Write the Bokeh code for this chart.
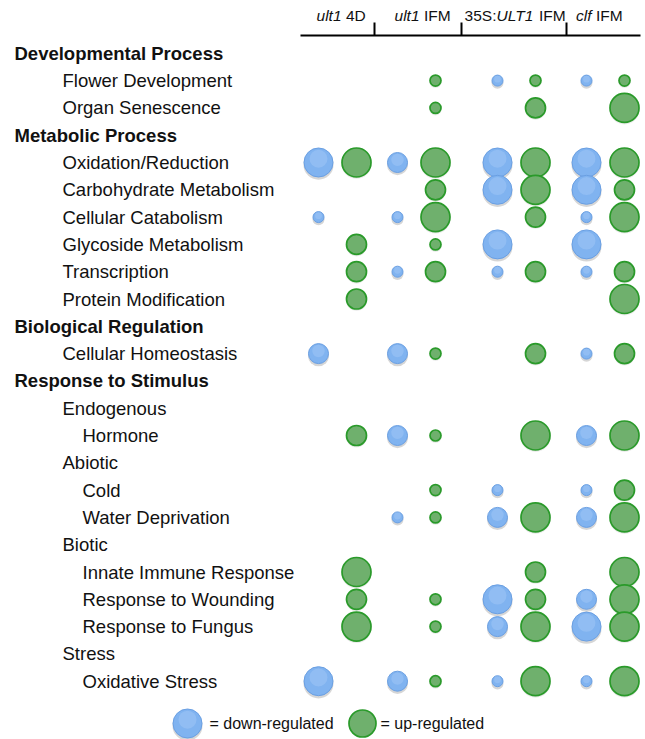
from bokeh.plotting import figure
from bokeh.models import Range1d, ColumnDataSource
from bokeh.embed import file_html
from bokeh.resources import INLINE
from bokeh.core.properties import value

# ---------------- data ----------------
row_labels = [
    "Developmental Process", "Flower Development", "Organ Senescence",
    "Metabolic Process", "Oxidation/Reduction", "Carbohydrate Metabolism",
    "Cellular Catabolism", "Glycoside Metabolism", "Transcription",
    "Protein Modification", "Biological Regulation", "Cellular Homeostasis",
    "Response to Stimulus", "Endogenous", "Hormone", "Abiotic", "Cold",
    "Water Deprivation", "Biotic", "Innate Immune Response",
    "Response to Wounding", "Response to Fungus", "Stress", "Oxidative Stress",
]
row_levels = [0, 1, 1, 0, 1, 1, 1, 1, 1, 1, 0, 1, 0, 1, 2, 1, 2, 2, 1, 2, 2, 2, 1, 2]

# size class of each circle: 0 = none, 1 = small, 2 = medium, 3 = large
ult1_4d_down   = [0, 0, 0, 0, 3, 0, 1, 0, 0, 0, 0, 2, 0, 0, 0, 0, 0, 0, 0, 0, 0, 0, 0, 3]
ult1_4d_up     = [0, 0, 0, 0, 3, 0, 0, 2, 2, 2, 0, 0, 0, 0, 2, 0, 0, 0, 0, 3, 2, 3, 0, 0]
ult1_ifm_down  = [0, 0, 0, 0, 2, 0, 1, 0, 1, 0, 0, 2, 0, 0, 2, 0, 0, 1, 0, 0, 0, 0, 0, 2]
ult1_ifm_up    = [0, 1, 1, 0, 3, 2, 3, 1, 2, 0, 0, 1, 0, 0, 1, 0, 1, 1, 0, 0, 1, 1, 0, 1]
ult1ox_ifm_down = [0, 1, 0, 0, 3, 3, 0, 3, 1, 0, 0, 0, 0, 0, 0, 0, 1, 2, 0, 0, 3, 2, 0, 1]
ult1ox_ifm_up  = [0, 1, 2, 0, 3, 3, 2, 0, 2, 0, 0, 2, 0, 0, 3, 0, 0, 3, 0, 2, 2, 3, 0, 3]
clf_ifm_down   = [0, 1, 0, 0, 3, 3, 1, 3, 1, 0, 0, 1, 0, 0, 2, 0, 1, 2, 0, 0, 2, 3, 0, 1]
clf_ifm_up     = [0, 1, 3, 0, 3, 2, 3, 0, 2, 3, 0, 2, 0, 0, 3, 0, 2, 3, 0, 3, 3, 3, 0, 3]

group_names = ["ult1 4D", "ult1 IFM", "35S:ULT1 IFM", "clf IFM"]
series = [
    (0, "down", ult1_4d_down), (0, "up", ult1_4d_up),
    (1, "down", ult1_ifm_down), (1, "up", ult1_ifm_up),
    (2, "down", ult1ox_ifm_down), (2, "up", ult1ox_ifm_up),
    (3, "down", clf_ifm_down), (3, "up", clf_ifm_up),
]

# ---------------- layout / style ----------------
W, H = 645, 739
GROUP_CENTER = [337, 416, 516, 605]
PAIR_OFFSET = 19
ROW_Y0, ROW_STEP = 52.8, 27.3
LEVEL_X = {0: 14, 1: 62, 2: 82}
DIAM = {1: 11, 2: 20, 3: 29}
LABEL_FONT = "Liberation Sans"
LABEL_SIZE = "18.5px"

BLUE_FILL, BLUE_LINE, BLUE_HI = "#80B3F0", "#6A9FE2", "#AACEF7"
GREEN_FILL, GREEN_LINE = "#6FB06D", "#2A9A2A"

p = figure(width=W, height=H, x_range=Range1d(0, W), y_range=Range1d(H, 0),
           output_backend="svg", toolbar_location=None, min_border=0)
p.axis.visible = False
p.grid.visible = False
p.outline_line_color = None
p.background_fill_color = "white"

# row labels
ys = [ROW_Y0 + ROW_STEP * i for i in range(len(row_labels))]
lab = ColumnDataSource(dict(
    x=[LEVEL_X[l] for l in row_levels], y=ys, text=row_labels,
    style=["bold" if l == 0 else "normal" for l in row_levels]))
p.text(x="x", y="y", text="text", source=lab, text_font=value(LABEL_FONT),
       text_font_size=LABEL_SIZE, text_font_style="style",
       text_baseline="middle", text_align="left", text_color="#111111")

# header
HEADER_Y = 15
header_parts = [
    ("ult1", "italic", 341, "right"), ("4D", "normal", 345.5, "left"),
    ("ult1", "italic", 419, "right"), ("IFM", "normal", 423.5, "left"),
    ("35S:", "normal", 496, "right"), ("ULT1", "italic", 496, "left"),
    ("IFM", "normal", 538.5, "left"),
    ("clf", "italic", 591, "right"), ("IFM", "normal", 595.5, "left"),
]
hs = ColumnDataSource(dict(
    x=[h[2] for h in header_parts], y=[HEADER_Y] * len(header_parts),
    text=[h[0] for h in header_parts], style=[h[1] for h in header_parts],
    align=[h[3] for h in header_parts]))
p.text(x="x", y="y", text="text", source=hs, text_font=value(LABEL_FONT),
       text_font_size="15.5px", text_font_style="style", text_align="align",
       text_baseline="middle", text_color="#111111")

LINE_Y = 35
p.segment(x0=[300], y0=[LINE_Y], x1=[640], y1=[LINE_Y], line_color="black", line_width=2)
TICKS = [374, 461, 566]
p.segment(x0=TICKS, y0=[22] * 3, x1=TICKS, y1=[LINE_Y] * 3, line_color="black", line_width=2)

# bubbles
for g, direction, vals in series:
    xs, yv, ds = [], [], []
    for i, v in enumerate(vals):
        if v > 0:
            xs.append(GROUP_CENTER[g] + (-PAIR_OFFSET if direction == "down" else PAIR_OFFSET))
            yv.append(ys[i])
            ds.append(DIAM[v])
    if not xs:
        continue
    if direction == "down":
        p.scatter(xs, [y + 2.2 for y in yv], size=[d + 1 for d in ds],
                  marker="circle", fill_color="black", fill_alpha=0.16, line_color=None)
        p.scatter(xs, yv, size=ds, marker="circle", fill_color=BLUE_FILL,
                  line_color=BLUE_LINE, line_width=1)
        p.scatter(xs, [y - d * 0.13 for y, d in zip(yv, ds)], size=[d * 0.62 for d in ds],
                  marker="circle", fill_color=BLUE_HI, fill_alpha=0.4, line_color=None)
    else:
        p.scatter(xs, [y + 1.5 for y in yv], size=[d + 1 for d in ds],
                  marker="circle", fill_color="black", fill_alpha=0.08, line_color=None)
        p.scatter(xs, yv, size=ds, marker="circle", fill_color=GREEN_FILL,
                  line_color=GREEN_LINE, line_width=1.7)

# legend
LEG_Y = 723
p.scatter([187], [LEG_Y + 2.2], size=30, marker="circle", fill_color="black",
          fill_alpha=0.16, line_color=None)
p.scatter([187], [LEG_Y], size=29, marker="circle", fill_color=BLUE_FILL,
          line_color=BLUE_LINE, line_width=1)
p.scatter([187], [LEG_Y - 3.8], size=18, marker="circle", fill_color=BLUE_HI,
          fill_alpha=0.4, line_color=None)
p.scatter([362], [LEG_Y], size=27, marker="circle", fill_color=GREEN_FILL,
          line_color=GREEN_LINE, line_width=1.7)
p.text(x=[209, 380], y=[LEG_Y, LEG_Y], text=["= down-regulated", "= up-regulated"],
       text_font=value(LABEL_FONT), text_font_size="16px", text_baseline="middle",
       text_align="left", text_color="#111111")

open("out.html", "w").write(file_html(p, INLINE))
